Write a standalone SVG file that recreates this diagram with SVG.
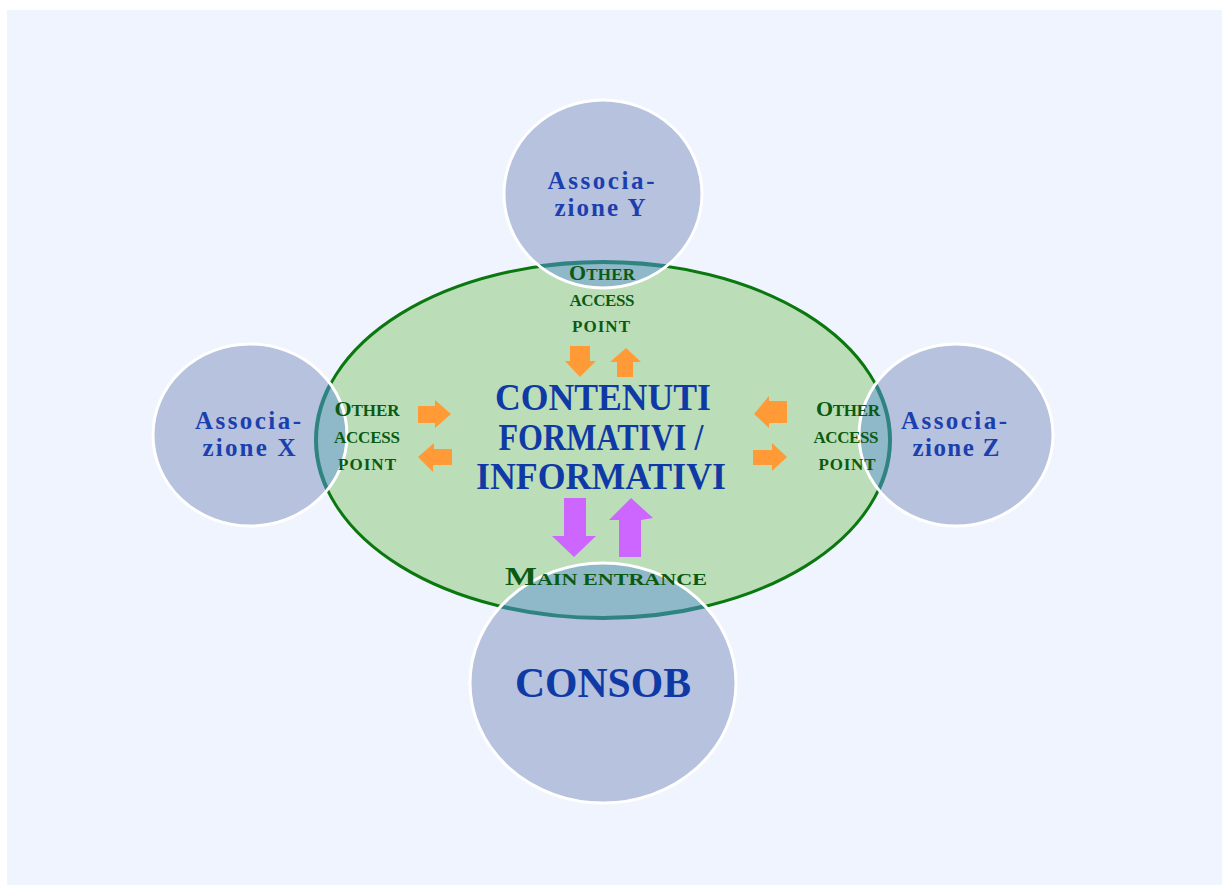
<svg xmlns="http://www.w3.org/2000/svg" width="1229" height="887" viewBox="0 0 1229 887">
<style>
text{font-family:"Liberation Serif","DejaVu Serif",serif;font-weight:bold;text-anchor:middle}
.assoc{fill:#1c3fae;font-size:25px}
.main{fill:#0f3aa5;font-size:37px}
.acc{fill:#0b5a12;font-size:17px}
.big{font-size:22px}
.c{fill:#b6c2de;stroke:none}
.ring{fill:none;stroke:#fff;stroke-width:3}
.ov{fill:#8fb8c8;stroke:#2f8482;stroke-width:4}
.orange{fill:#ff9a36}
.violet{fill:#cc66ff}
</style>
<defs>
<clipPath id="cy"><ellipse cx="603" cy="194" rx="99" ry="94"/></clipPath>
<clipPath id="cx"><ellipse cx="250" cy="435" rx="97" ry="91"/></clipPath>
<clipPath id="cz"><ellipse cx="956" cy="435" rx="97" ry="91"/></clipPath>
<clipPath id="cc"><ellipse cx="603" cy="683" rx="133" ry="120"/></clipPath>
</defs>
<rect width="1229" height="887" fill="#fff"/>
<rect x="7" y="10" width="1215" height="875" fill="#f0f4fe"/>
<g id="hub"><ellipse cx="603" cy="440" rx="287" ry="178" fill="#bbdeb9" stroke="#0a780f" stroke-width="3"/></g>
<g id="assoc-y">
<ellipse class="c" cx="603" cy="194" rx="99" ry="94"/>
<ellipse class="ov" cx="603" cy="440" rx="287" ry="178" clip-path="url(#cy)"/>
<ellipse class="ring" cx="603" cy="194" rx="99" ry="94"/>
<text class="assoc" x="601" y="189" textLength="107">Associa-</text>
<text class="assoc" x="600" y="216" textLength="91">zione Y</text>
</g>
<g id="assoc-x">
<ellipse class="c" cx="250" cy="435" rx="97" ry="91"/>
<ellipse class="ov" cx="603" cy="440" rx="287" ry="178" clip-path="url(#cx)"/>
<ellipse class="ring" cx="250" cy="435" rx="97" ry="91"/>
<text class="assoc" x="248" y="429" textLength="106">Associa-</text>
<text class="assoc" x="249" y="456" textLength="93">zione X</text>
</g>
<g id="assoc-z">
<ellipse class="c" cx="956" cy="435" rx="97" ry="91"/>
<ellipse class="ov" cx="603" cy="440" rx="287" ry="178" clip-path="url(#cz)"/>
<ellipse class="ring" cx="956" cy="435" rx="97" ry="91"/>
<text class="assoc" x="954" y="429" textLength="106">Associa-</text>
<text class="assoc" x="956" y="456" textLength="87">zione Z</text>
</g>
<g id="consob">
<ellipse class="c" cx="603" cy="683" rx="133" ry="120"/>
<ellipse class="ov" cx="603" cy="440" rx="287" ry="178" clip-path="url(#cc)"/>
<ellipse class="ring" cx="603" cy="683" rx="133" ry="120"/>
<text x="603" y="697" fill="#0f3aa5" font-size="42" textLength="176" lengthAdjust="spacingAndGlyphs">CONSOB</text>
</g>
<g id="center">
<text class="main" x="603" y="410" textLength="216" lengthAdjust="spacingAndGlyphs">CONTENUTI</text>
<text class="main" x="601" y="450" textLength="205" lengthAdjust="spacingAndGlyphs">FORMATIVI /</text>
<text class="main" x="601" y="489" textLength="250" lengthAdjust="spacingAndGlyphs">INFORMATIVI</text>
</g>
<g id="labels">
<text class="acc" x="602" y="280" textLength="66"><tspan class="big">O</tspan>THER</text>
<text class="acc" x="602" y="306" textLength="65">ACCESS</text>
<text class="acc" x="601" y="332" textLength="58">POINT</text>
<text class="acc" x="367" y="416" textLength="65"><tspan class="big">O</tspan>THER</text>
<text class="acc" x="367" y="443" textLength="66">ACCESS</text>
<text class="acc" x="367" y="470" textLength="58">POINT</text>
<text class="acc" x="848" y="416" textLength="64"><tspan class="big">O</tspan>THER</text>
<text class="acc" x="846" y="443" textLength="65">ACCESS</text>
<text class="acc" x="847" y="470" textLength="57">POINT</text>
<text class="acc" x="606" y="585" font-size="19" textLength="202" lengthAdjust="spacingAndGlyphs"><tspan font-size="26">M</tspan>AIN ENTRANCE</text>
</g>
<g id="connectors">
<polygon class="orange" points="570,346 590,346 590,361 596,361 580,377 565,361 570,361"/>
<polygon class="orange" points="617,377 617,362 610,362 626,348 641,362 633,362 633,377"/>
<polygon class="orange" points="418,406 435,406 435,400 451,414 435,428 435,423 418,423"/>
<polygon class="orange" points="452,449 434,449 434,443 418,457 433,472 433,465 452,465"/>
<polygon class="orange" points="787,401 769,401 769,396 754,414 769,428 769,423 787,423" />
<polygon class="orange" points="753,450 772,450 772,443 787,457 772,471 772,465 753,465"/>
<polygon class="violet" points="564,498 586,498 586,536 596,536 574,557 552,536 564,536"/>
<polygon class="violet" points="619,557 619,520 609,520 631,498 653,518 641,520 641,557"/>
</g>
</svg>
